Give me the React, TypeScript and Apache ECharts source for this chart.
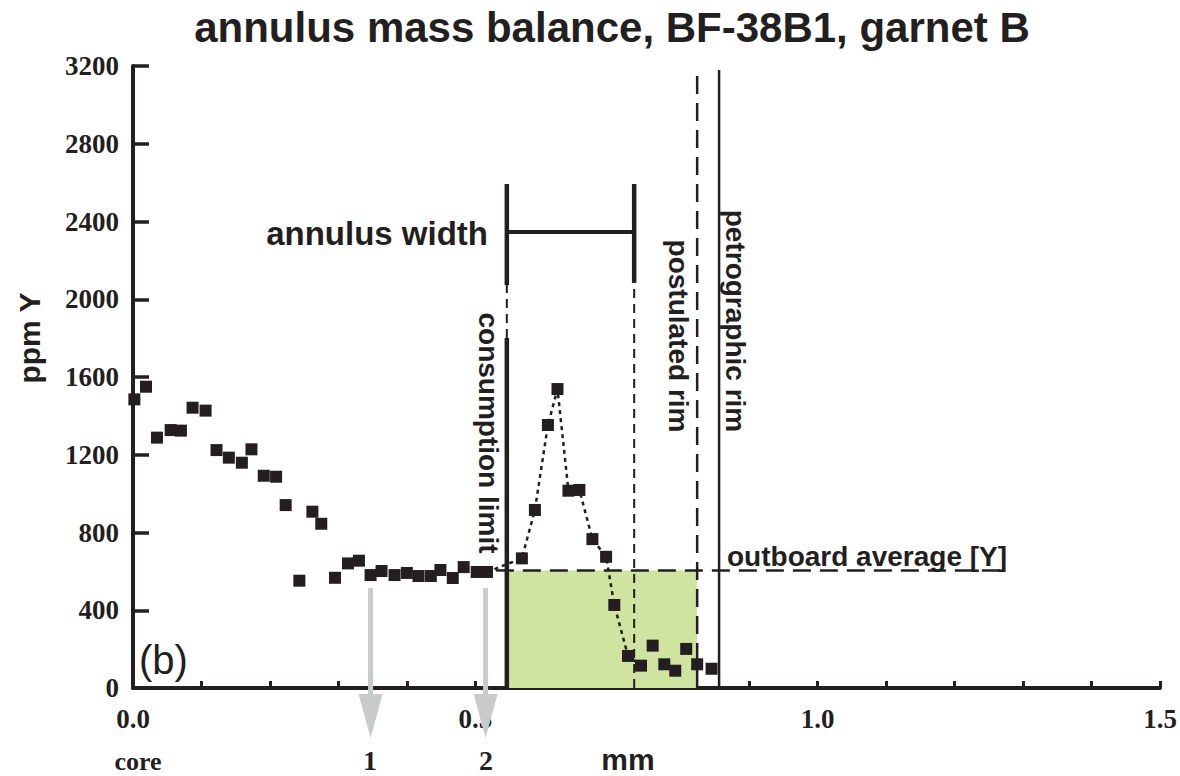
import React, { useEffect, useRef } from "react";
import * as echarts from "echarts";

// ---- data ----
const xTickLabels = ["0.0", "0.5", "1.0", "1.5"];
const yTickStep = 400;
const yMax = 3200;

// points from core to the consumption limit
const flatX = [0.002, 0.019, 0.035, 0.055, 0.07, 0.087, 0.106, 0.122, 0.14, 0.159, 0.173, 0.191, 0.209, 0.223, 0.243, 0.262, 0.275, 0.295, 0.314, 0.33, 0.347, 0.363, 0.382, 0.4, 0.417, 0.435, 0.449, 0.467, 0.483, 0.502, 0.517];
const flatY = [1485, 1550, 1288, 1327, 1324, 1442, 1427, 1224, 1185, 1159, 1228, 1092, 1087, 941, 552, 907, 845, 567, 641, 655, 581, 602, 581, 592, 576, 576, 607, 566, 622, 597, 597];
// points joined by the dotted line (annulus peak)
const peakX = [0.568, 0.587, 0.606, 0.62, 0.636, 0.652, 0.671, 0.691, 0.703, 0.723, 0.742];
const peakY = [667, 916, 1353, 1538, 1015, 1019, 766, 675, 427, 165, 115];
// points near the rim
const rimX = [0.759, 0.776, 0.792, 0.808, 0.824, 0.845];
const rimY = [218, 122, 89, 201, 122, 99];

// reference lines
const consumptionLimitX = 0.546;
const annulusOuterX = 0.732;
const postulatedRimX = 0.824;
const petrographicRimX = 0.856;
const outboardAverageY = 605;
const bracketTopY = 2593;
const bracketBarY = 2346;
const bracketLeftSolidBottomY = 2073;
const bracketRightSolidBottomY = 2084;
const limitSolidTopY = 1801;
const rimLineTopY = 3180;
const outboardStartX = 0.53;
const outboardEndX = 1.277;

// grey arrows (1, 2)
const arrowX = [0.347, 0.515];
const arrowLabels = ["1", "2"];
const arrowTopY = 514;
const arrowShaftBottomY = -62;
const arrowHeadY = -144;

const INK = "#231f20";
const SANS = "'Liberation Sans', Arial, Helvetica, sans-serif";
const SERIF = "'Liberation Serif', 'Times New Roman', serif";

function seg(points: number[][], width: number, type: any = "solid", color = INK) {
  return {
    type: "line",
    data: points,
    symbol: "none",
    clip: false,
    silent: true,
    z: 3,
    lineStyle: { color, width, type, cap: "butt" },
  };
}

export default function App() {
  const ref = useRef<HTMLDivElement>(null);

  useEffect(() => {
    document.body.style.margin = "0";
    const chart = echarts.init(ref.current!, null, { renderer: "svg" });

    const allPoints = [
      ...flatX.map((x, i) => [x, flatY[i]]),
      ...peakX.map((x, i) => [x, peakY[i]]),
      ...rimX.map((x, i) => [x, rimY[i]]),
    ];
    const dotted = [
      [flatX[flatX.length - 1], flatY[flatY.length - 1]],
      ...peakX.map((x, i) => [x, peakY[i]]),
    ];

    const series: any[] = [
      {
        type: "line",
        data: [[consumptionLimitX, 0]],
        symbol: "none",
        silent: true,
        lineStyle: { opacity: 0 },
        markArea: {
          silent: true,
          itemStyle: { color: "#d0e3a1", opacity: 1 },
          data: [[{ coord: [consumptionLimitX, 0] }, { coord: [postulatedRimX, outboardAverageY] }]],
        },
      },
      // consumption limit
      seg([[consumptionLimitX, 0], [consumptionLimitX, limitSolidTopY]], 4.5),
      seg([[consumptionLimitX, limitSolidTopY], [consumptionLimitX, bracketLeftSolidBottomY]], 2, [9, 6]),
      seg([[consumptionLimitX, bracketLeftSolidBottomY], [consumptionLimitX, bracketTopY]], 4.5),
      // annulus outer
      seg([[annulusOuterX, 0], [annulusOuterX, bracketRightSolidBottomY]], 2, [9, 6]),
      seg([[annulusOuterX, bracketRightSolidBottomY], [annulusOuterX, bracketTopY]], 4.5),
      // annulus width bar
      seg([[consumptionLimitX, bracketBarY], [annulusOuterX, bracketBarY]], 4),
      // postulated rim
      seg([[postulatedRimX, 0], [postulatedRimX, rimLineTopY]], 2.5, [18, 9]),
      // petrographic rim
      seg([[petrographicRimX, 0], [petrographicRimX, rimLineTopY]], 2.5),
      // outboard average
      seg([[outboardStartX, outboardAverageY], [outboardEndX, outboardAverageY]], 2.5, [18, 9]),
      // dotted peak line
      {
        type: "line",
        data: dotted,
        symbol: "none",
        silent: true,
        z: 4,
        lineStyle: { color: INK, width: 2.5, type: [4, 4] },
      },
      // arrows
      ...arrowX.map((x) =>
        seg([[x, arrowTopY], [x, arrowShaftBottomY]], 5, "solid", "#c9cacc")
      ),
      {
        type: "scatter",
        data: arrowX.map((x) => [x, arrowHeadY]),
        symbol: "triangle",
        symbolRotate: 180,
        symbolSize: [24, 44],
        clip: false,
        silent: true,
        itemStyle: { color: "#c9cacc", opacity: 1 },
        z: 3,
      },
      // data points
      {
        type: "scatter",
        data: allPoints,
        symbol: "rect",
        symbolSize: 12,
        clip: false,
        itemStyle: { color: INK, opacity: 1 },
        z: 5,
      },
    ];

    const textStyle = (size: number, weight: any = "bold", family = SANS) => ({
      fontSize: size,
      fontWeight: weight,
      fontFamily: family,
      fill: INK,
    });

    chart.setOption({
      animation: false,
      backgroundColor: "#ffffff",
      title: {
        text: "annulus mass balance, BF-38B1, garnet B",
        left: 607,
        textAlign: "center",
        top: 1,
        textStyle: { fontSize: 42, fontWeight: "bold", fontFamily: SANS, color: INK },
      },
      grid: { left: 133, right: 20, top: 66, bottom: 88, containLabel: false },
      xAxis: {
        type: "value",
        min: 0,
        max: 1.5,
        interval: 0.1,
        splitLine: { show: false },
        axisLine: { lineStyle: { color: INK, width: 4 } },
        axisTick: { inside: true, length: 7, lineStyle: { color: INK, width: 3 } },
        axisLabel: {
          margin: 17,
          fontFamily: SERIF,
          fontWeight: "bold",
          fontSize: 27,
          color: INK,
          formatter: (v: number) => {
            const s = (Math.round(v * 10) / 10).toFixed(1);
            return xTickLabels.includes(s) ? s : "";
          },
        },
      },
      yAxis: {
        type: "value",
        min: 0,
        max: yMax,
        interval: yTickStep,
        splitLine: { show: false },
        axisLine: { lineStyle: { color: INK, width: 4 } },
        axisTick: { inside: true, length: 16, lineStyle: { color: INK, width: 3.5 } },
        axisLabel: {
          margin: 14,
          fontFamily: SERIF,
          fontWeight: "bold",
          fontSize: 27,
          color: INK,
          formatter: (v: number) => String(Math.round(v)),
        },
      },
      graphic: [
        { type: "text", x: 29, y: 338, rotation: Math.PI / 2, style: { text: "ppm Y", ...textStyle(30), textAlign: "center", textVerticalAlign: "middle" } },
        { type: "text", x: 488, y: 233, style: { text: "annulus width", ...textStyle(33), textAlign: "right", textVerticalAlign: "middle" } },
        { type: "text", x: 488, y: 433, rotation: -Math.PI / 2, style: { text: "consumption limit", ...textStyle(28), textAlign: "center", textVerticalAlign: "middle" } },
        { type: "text", x: 678, y: 336, rotation: -Math.PI / 2, style: { text: "postulated rim", ...textStyle(28), textAlign: "center", textVerticalAlign: "middle" } },
        { type: "text", x: 735, y: 321, rotation: -Math.PI / 2, style: { text: "petrographic rim", ...textStyle(28), textAlign: "center", textVerticalAlign: "middle" } },
        { type: "text", x: 727, y: 556, style: { text: "outboard average [Y]", ...textStyle(28), textAlign: "left", textVerticalAlign: "middle" } },
        { type: "text", x: 139, y: 660, style: { text: "(b)", ...textStyle(40, "normal"), textAlign: "left", textVerticalAlign: "middle" } },
        { type: "text", x: 138, y: 761, style: { text: "core", ...textStyle(26, "bold", SERIF), textAlign: "center", textVerticalAlign: "middle" } },
        { type: "text", x: 370, y: 760, style: { text: arrowLabels[0], ...textStyle(28, "bold", SERIF), textAlign: "center", textVerticalAlign: "middle" } },
        { type: "text", x: 486, y: 760, style: { text: arrowLabels[1], ...textStyle(28, "bold", SERIF), textAlign: "center", textVerticalAlign: "middle" } },
        { type: "text", x: 628, y: 759, style: { text: "mm", ...textStyle(30), textAlign: "center", textVerticalAlign: "middle" } },
      ],
      series,
    });

    return () => chart.dispose();
  }, []);

  return (
    <div
      ref={ref}
      style={{ width: 1180, height: 776, position: "absolute", left: 0, top: 0 }}
    />
  );
}
